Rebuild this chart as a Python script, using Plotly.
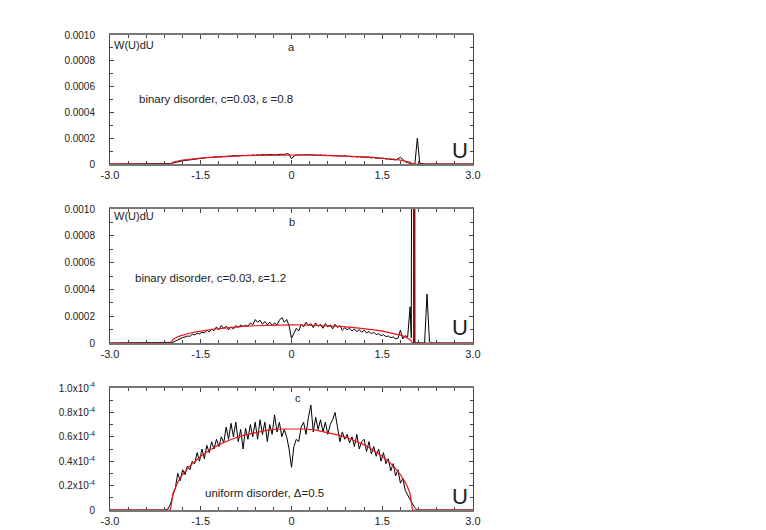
import numpy as np
import plotly.graph_objects as go

# ---------------- data (W values in units of 1e-4) ----------------
U_START, U_STEP, N_CORE = -2.2, 0.04, 105
u_core = [round(U_START + U_STEP * k, 2) for k in range(N_CORE)]
edge_u = [-3.0]
edge_w = [0.0]

a_black = [0, 0, 0, 0, 0.0, 0.03, 0.08, 0.13, 0.17, 0.21,
           0.25, 0.27, 0.30, 0.33, 0.36, 0.39, 0.40, 0.43, 0.45, 0.46,
           0.50, 0.52, 0.50, 0.56, 0.54, 0.58, 0.55, 0.60, 0.58, 0.62,
           0.60, 0.66, 0.62, 0.65, 0.63, 0.67, 0.64, 0.68, 0.66, 0.70,
           0.67, 0.72, 0.68, 0.74, 0.70, 0.72, 0.69, 0.74, 0.70, 0.73,
           0.71, 0.76, 0.74, 0.80, 0.76, 0.40, 0.62, 0.70, 0.68, 0.72,
           0.69, 0.73, 0.70, 0.72, 0.68, 0.71, 0.67, 0.70, 0.66, 0.69,
           0.65, 0.68, 0.64, 0.66, 0.62, 0.65, 0.60, 0.66, 0.58, 0.60,
           0.56, 0.58, 0.54, 0.57, 0.52, 0.55, 0.50, 0.52, 0.47, 0.50,
           0.44, 0.46, 0.42, 0.44, 0.38, 0.40, 0.34, 0.36, 0.30, 0.38,
           0.52, 0.36, 0.18, 0.10, 0.04]
a_tail_u = [2.0, 2.04, 2.08, 2.12, 2.16, 2.2, 3.0]
a_tail_w = [0.02, 0.03, 2.0, 0.06, 0.02, 0.0, 0.0]

b_black = [0, 0, 0, 0, 0, 0.0, 0.05, 0.15, 0.25, 0.30,
           0.40, 0.45, 0.52, 0.50, 0.65, 0.60, 0.72, 0.68, 0.80, 0.75,
           0.95, 0.82, 1.05, 0.92, 1.20, 0.98, 1.30, 1.10, 1.25, 0.98,
           1.20, 1.05, 1.30, 1.15, 1.35, 1.22, 1.32, 1.25, 1.50, 1.35,
           1.75, 1.55, 1.70, 1.40, 1.60, 1.35, 1.55, 1.30, 1.50, 1.35,
           1.70, 1.90, 1.55, 1.75, 1.30, 0.35, 0.80, 1.10, 0.90, 1.40,
           1.20, 1.55, 1.30, 1.45, 1.15, 1.50, 1.25, 1.40, 1.10, 1.45,
           1.20, 1.35, 1.05, 1.40, 1.15, 1.30, 0.95, 1.15, 1.00, 1.10,
           0.90, 1.05, 0.85, 1.00, 0.80, 0.95, 0.75, 0.85, 0.70, 0.80,
           0.62, 0.70, 0.55, 0.62, 0.48, 0.52, 0.40, 0.45, 0.32, 0.35,
           0.95, 0.30, 0.55, 0.45, 2.70]
b_tail_u = [1.98, 2.0, 2.02, 2.06, 2.2, 2.24, 2.28, 2.32, 3.0]
b_tail_w = [0.40, 60.0, 0.0, 0.02, 0.0, 3.65, 0.10, 0.0, 0.0]

c_black = [0, 0, 0, 0, 0.01, 0.05, 0.12, 0.18, 0.30, 0.24,
           0.33, 0.29, 0.36, 0.33, 0.40, 0.38, 0.47, 0.40, 0.50, 0.42,
           0.53, 0.47, 0.56, 0.50, 0.58, 0.52, 0.60, 0.55, 0.68, 0.58,
           0.71, 0.60, 0.72, 0.56, 0.66, 0.50, 0.67, 0.58, 0.70, 0.60,
           0.72, 0.58, 0.74, 0.62, 0.72, 0.56, 0.70, 0.62, 0.78, 0.64,
           0.72, 0.60, 0.66, 0.60, 0.50, 0.35, 0.52, 0.58, 0.56, 0.68,
           0.72, 0.62, 0.76, 0.86, 0.64, 0.76, 0.66, 0.74, 0.64, 0.72,
           0.62, 0.70, 0.74, 0.80, 0.68, 0.56, 0.64, 0.58, 0.62, 0.55,
           0.60, 0.52, 0.62, 0.50, 0.56, 0.58, 0.48, 0.56, 0.46, 0.52,
           0.44, 0.50, 0.40, 0.47, 0.38, 0.42, 0.32, 0.38, 0.28, 0.33,
           0.22, 0.26, 0.16, 0.12, 0.08]
c_tail_u = [2.0, 2.04, 2.08, 3.0]
c_tail_w = [0.05, 0.02, 0.0, 0.0]

red_u = [-3.0, -2.0, -1.96, -1.92, -1.88, -1.84, -1.8, -1.7, -1.6, -1.5, -1.4, -1.3,
         -1.2, -1.1, -1.0, -0.8, -0.6, -0.4, -0.2, 0.0, 0.2, 0.4, 0.6, 0.8, 1.0,
         1.1, 1.2, 1.3, 1.4, 1.5, 1.6, 1.7, 1.8, 1.84, 1.88, 1.92, 1.96, 2.0, 3.0]
a_red = [0, 0, 0.139, 0.196, 0.239, 0.274, 0.305, 0.369, 0.42, 0.463, 0.500, 0.532,
         0.56, 0.585, 0.606, 0.642, 0.668, 0.686, 0.697, 0.70, 0.697, 0.686, 0.668,
         0.642, 0.606, 0.585, 0.56, 0.532, 0.500, 0.463, 0.42, 0.369, 0.305, 0.274,
         0.239, 0.196, 0.139, 0, 0]
b_red = [0, 0, 0.269, 0.378, 0.460, 0.529, 0.589, 0.711, 0.81, 0.892, 0.964, 1.026,
         1.08, 1.127, 1.169, 1.238, 1.288, 1.323, 1.343, 1.35, 1.343, 1.323, 1.288,
         1.238, 1.169, 1.127, 1.08, 1.026, 0.964, 0.892, 0.81, 0.711, 0.589, 0.529,
         0.460, 0.378, 0.269, 0, 0]
c_red = [0, 0, 0.133, 0.187, 0.227, 0.261, 0.291, 0.351, 0.400, 0.441, 0.476, 0.507,
         0.534, 0.557, 0.578, 0.612, 0.636, 0.654, 0.664, 0.667, 0.664, 0.654, 0.636,
         0.612, 0.578, 0.557, 0.534, 0.507, 0.476, 0.441, 0.400, 0.351, 0.291, 0.261,
         0.227, 0.187, 0.133, 0, 0]
b_red_spike_u = [2.02, 2.03, 2.04]
b_red_spike_w = [0.0, 60.0, 0.0]

x_tickvals = [-3.0, -1.5, 0.0, 1.5, 3.0]
x_ticktext = ["-3.0", "-1.5", "0", "1.5", "3.0"]
ab_tickvals = [0, 0.0002, 0.0004, 0.0006, 0.0008, 0.0010]
ab_ticktext = ["0", "0.0002", "0.0004", "0.0006", "0.0008", "0.0010"]
c_tickvals = [0, 0.2e-4, 0.4e-4, 0.6e-4, 0.8e-4, 1.0e-4]
c_ticktext = ["0", "0.2x10<sup>-4</sup>", "0.4x10<sup>-4</sup>", "0.6x10<sup>-4</sup>",
              "0.8x10<sup>-4</sup>", "1.0x10<sup>-4</sup>"]

SCALE = 1e-4

panels = [
    dict(name="a", core=a_black, tu=a_tail_u, tw=a_tail_w, red=a_red,
         label="binary disorder, c=0.03, \u025b =0.8"),
    dict(name="b", core=b_black, tu=b_tail_u, tw=b_tail_w, red=b_red,
         label="binary disorder, c=0.03, \u025b=1.2"),
    dict(name="c", core=c_black, tu=c_tail_u, tw=c_tail_w, red=c_red,
         label="uniform disorder, \u0394=0.5"),
]

# page body adds an 8px offset; compensate
OFF = 8
W, H = 766 - OFF, 530 - OFF
boxes = [(35 - OFF, 164 - OFF), (209 - OFF, 343 - OFF), (388 - OFF, 510 - OFF)]
x0, x1 = 110 - OFF, 473 - OFF

FONT = "Liberation Sans, Arial, sans-serif"
fig = go.Figure()
layout = dict(width=W, height=H, margin=dict(l=0, r=0, t=0, b=0),
              paper_bgcolor="white", plot_bgcolor="white", showlegend=False,
              font=dict(family=FONT, size=11, color="#222"))
annotations = []
for i, p in enumerate(panels):
    sfx = "" if i == 0 else str(i + 1)
    xa, ya = "x" + sfx, "y" + sfx
    bx = np.array(edge_u + u_core + p["tu"])
    by = np.array(edge_w + p["core"] + p["tw"]) * SCALE
    fig.add_trace(go.Scatter(x=bx, y=by, mode="lines", line=dict(color="black", width=1),
                             xaxis=xa, yaxis=ya))
    fig.add_trace(go.Scatter(x=red_u, y=np.array(p["red"]) * SCALE, mode="lines",
                             line=dict(color="#e8151b", width=1.2), xaxis=xa, yaxis=ya))
    if p["name"] == "b":
        fig.add_trace(go.Scatter(x=b_red_spike_u, y=np.array(b_red_spike_w) * SCALE,
                                 mode="lines", line=dict(color="#8b1010", width=1.2),
                                 xaxis=xa, yaxis=ya))
    top, bot = boxes[i]
    ymax = 1e-4 if p["name"] == "c" else 1e-3
    layout["xaxis" + sfx] = dict(
        domain=[x0 / W, x1 / W], anchor=ya, range=[-3, 3],
        tickvals=x_tickvals, ticktext=x_ticktext, ticks="inside", ticklen=4,
        tickcolor="#444", showline=True, linecolor="#777", linewidth=1.5,
        mirror="allticks", showgrid=False, zeroline=False,
        minor=dict(dtick=0.3, tick0=0, ticks="inside", ticklen=3, tickcolor="#444"),
        tickfont=dict(size=11, color="#222"), automargin=False)
    layout["yaxis" + sfx] = dict(
        domain=[1 - bot / H, 1 - top / H], anchor=xa, range=[0, ymax],
        tickvals=c_tickvals if p["name"] == "c" else ab_tickvals,
        ticktext=c_ticktext if p["name"] == "c" else ab_ticktext,
        ticks="inside", ticklen=4, tickcolor="#444", showline=True,
        linecolor="#444", linewidth=1, mirror="allticks", showgrid=False,
        zeroline=False, ticklabelstandoff=12,
        minor=dict(dtick=ymax / 10, tick0=0, ticks="inside", ticklen=3, tickcolor="#444"),
        tickfont=dict(size=10, color="#222"), automargin=False)
    yfrac = lambda py, top=top, bot=bot, ymax=ymax: (bot - (py - OFF)) / (bot - top) * ymax
    annotations.append(dict(x=-2.96, y=yfrac(45 if i != 1 else 216), xref=xa, yref=ya,
                            text="W(U)dU", showarrow=False, xanchor="left", yanchor="middle",
                            font=dict(size=11)))
    lx = {"a": 0.0, "b": 0.0, "c": 0.1}[p["name"]]
    ly = {"a": 47, "b": 222, "c": 398}[p["name"]]
    annotations.append(dict(x=lx, y=yfrac(ly), xref=xa, yref=ya, text=p["name"],
                            showarrow=False, xanchor="center", yanchor="middle",
                            font=dict(size=11)))
    tx = {"a": -2.55, "b": -2.62, "c": -1.46}[p["name"]]
    ty = {"a": 99, "b": 278, "c": 493}[p["name"]]
    annotations.append(dict(x=tx, y=yfrac(ty), xref=xa, yref=ya, text=p["label"],
                            showarrow=False, xanchor="left", yanchor="middle",
                            font=dict(size=11.5)))
    uy = {"a": 150, "b": 328, "c": 496}[p["name"]]
    annotations.append(dict(x=2.95, y=yfrac(uy), xref=xa, yref=ya, text="U",
                            showarrow=False, xanchor="right", yanchor="middle",
                            font=dict(size=22)))
layout["annotations"] = annotations
fig.update_layout(**layout)
fig.write_html("out.html")
